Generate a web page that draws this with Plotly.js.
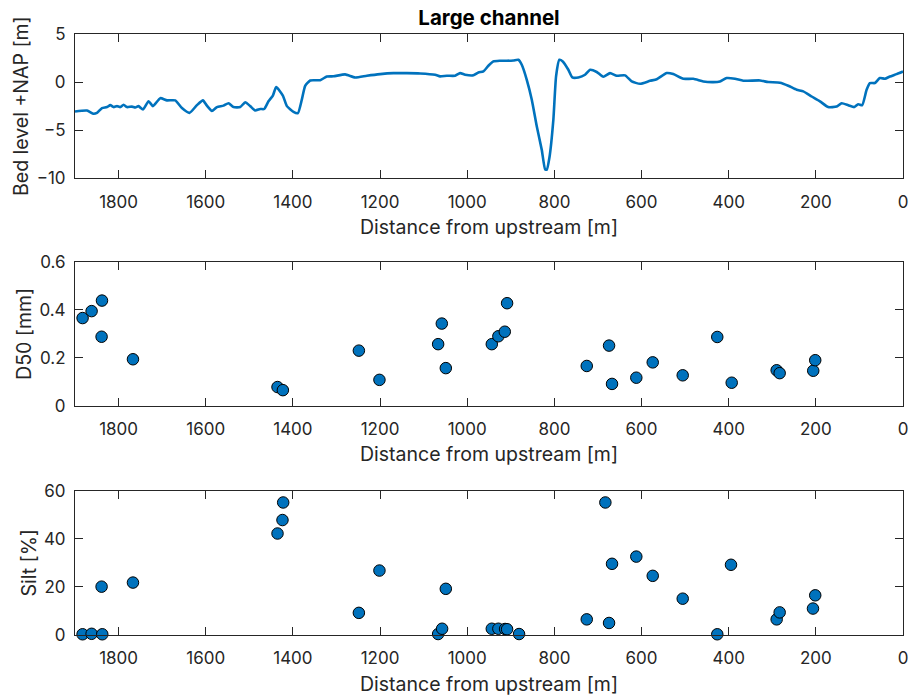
<!DOCTYPE html>
<html>
<head>
<meta charset="utf-8">
<script src="https://cdn.plot.ly/plotly-3.0.1.min.js"></script>
<style>
  html, body { margin: 0; padding: 0; background: #fff; }
  #chart { width: 915px; height: 698px; }
</style>
</head>
<body>
<div id="chart"></div>
<script>
// Longitudinal bed profile of the large channel
const bedDist = [
  1900, 1872.5, 1857.4, 1849.6, 1838.1, 1826.6, 1819.0, 1811.5, 1803.7, 1796.1,
  1788.5, 1780.7, 1769.3, 1761.7, 1754.2, 1744.0, 1731.2, 1721.1, 1704.4, 1689.0,
  1670.0, 1654.6, 1637.2, 1620.2, 1606.5, 1597.3, 1585.8, 1574.3, 1559.2, 1547.7,
  1536.2, 1520.9, 1509.4, 1497.9, 1486.5, 1475.0, 1465.8, 1456.0, 1445.9, 1438.3,
  1423.0, 1413.8, 1398.6, 1388.5, 1379.4, 1371.8, 1360.3, 1337.4, 1322.0, 1306.9,
  1280.1, 1257.1, 1230.3, 1199.8, 1169.3, 1138.5, 1108.0, 1073.6, 1062.2, 1046.8,
  1027.8, 1016.3, 1004.8, 985.8, 974.3, 962.9, 951.4, 939.9, 924.6, 909.2,
  894.0, 882.6, 874.8, 863.3, 851.8, 840.4, 828.9, 821.3, 817.4, 811.5,
  802.3, 796.1, 788.5, 780.7, 767.9, 758.7, 745.0, 729.6, 718.1, 702.8,
  687.6, 672.3, 656.9, 637.8, 622.5, 603.4, 580.5, 565.1, 542.2, 527.1,
  504.1, 481.2, 458.3, 435.3, 420.0, 404.6, 385.6, 366.5, 328.2, 309.2,
  282.3, 263.3, 244.0, 228.9, 209.6, 190.6, 171.6, 152.3, 140.8, 125.7,
  111.9, 102.8, 93.6, 83.5, 75.9, 64.5, 53.0, 41.5, 30.0, 14.7,
  0
];
const bedLevel = [
  -3.06, -2.96, -3.3, -3.2, -2.7, -2.6, -2.4, -2.6, -2.5, -2.6,
  -2.35, -2.6, -2.55, -2.65, -2.5, -2.85, -2.0, -2.5, -1.67, -1.9,
  -1.9, -2.7, -3.2, -2.4, -1.9, -2.45, -3.0, -2.6, -2.45, -2.2,
  -2.6, -2.6, -2.1, -2.5, -2.95, -2.8, -2.8, -2.0, -1.4, -0.52,
  -1.4, -2.5, -3.1, -3.23, -1.8, -0.39, 0.17, 0.2, 0.58, 0.6,
  0.8, 0.48, 0.66, 0.83, 0.93, 0.93, 0.9, 0.76, 0.59, 0.66,
  0.66, 0.93, 0.76, 0.7, 1.0, 1.11, 1.7, 2.15, 2.22, 2.22,
  2.25, 2.32, 1.8, 0.24, -1.84, -4.6, -7.05, -9.07, -9.1, -7.9,
  -3.9, 0.6, 2.32, 2.15, 1.28, 0.48, 0.48, 0.76, 1.28, 1.05,
  0.55, 0.93, 0.66, 0.7, 0.07, -0.18, 0.13, 0.3, 0.94, 0.83,
  0.34, 0.34, 0.07, 0.0, 0.07, 0.42, 0.35, 0.14, 0.17, 0.0,
  -0.07, -0.38, -0.8, -0.97, -1.5, -2.0, -2.6, -2.55, -2.2, -2.4,
  -2.6, -2.3, -2.4, -0.8, -0.1, -0.1, 0.42, 0.35, 0.58, 0.83,
  1.1
];

// Median grain size of the bed samples
const d50Dist = [1882.6, 1861.9, 1838.1, 1839.0, 1767.0, 1435.3, 1423.0, 1248.6, 1201.4, 1066.7,
  1058.3, 1049.1, 943.6, 928.5, 913.8, 908.5, 725.7, 674.5, 667.7, 612.0,
  574.3, 505.5, 426.2, 393.1, 289.9, 283.0, 206.0, 201.4];
const d50 = [0.366, 0.395, 0.439, 0.288, 0.194, 0.078, 0.065, 0.23, 0.108, 0.257,
  0.343, 0.157, 0.257, 0.29, 0.309, 0.428, 0.166, 0.251, 0.091, 0.117,
  0.181, 0.127, 0.287, 0.096, 0.148, 0.136, 0.146, 0.19];

// Silt fraction of the bed samples
const siltDist = [1882.6, 1861.9, 1837.4, 1839.0, 1767.0, 1435.3, 1423.9, 1422.3, 1248.6, 1201.4,
  1066.7, 1057.6, 1049.1, 943.6, 928.5, 913.1, 908.5, 881.0, 725.7, 674.5,
  683.0, 667.7, 612.0, 574.3, 505.5, 426.2, 394.7, 289.9, 283.0, 206.6, 201.4];
const silt = [0.3, 0.5, 0.3, 20.1, 21.8, 42.2, 47.8, 55.1, 9.2, 26.8,
  0.4, 2.6, 19.2, 2.6, 2.6, 2.5, 2.4, 0.4, 6.5, 5.0,
  55.1, 29.6, 32.6, 24.6, 15.1, 0.3, 29.2, 6.5, 9.4, 11.0, 16.5];

const xTicks = [0, 200, 400, 600, 800, 1000, 1200, 1400, 1600, 1800];
const xTitle = 'Distance from upstream [m]';

const BLUE = '#0072BD';
const AX = '#262626';
const FONT = 'Inter, "Liberation Sans", Arial, sans-serif';

const markerStyle = {
  size: 11.5,
  color: BLUE,
  line: { color: '#000000', width: 1 }
};

const traces = [
  { x: bedDist, y: bedLevel, xaxis: 'x', yaxis: 'y', type: 'scatter', mode: 'lines',
    line: { color: BLUE, width: 2.6, shape: 'spline', smoothing: 0.5 }, hoverinfo: 'skip' },
  { x: d50Dist, y: d50, xaxis: 'x2', yaxis: 'y2', type: 'scatter', mode: 'markers',
    marker: markerStyle, cliponaxis: false },
  { x: siltDist, y: silt, xaxis: 'x3', yaxis: 'y3', type: 'scatter', mode: 'markers',
    marker: markerStyle, cliponaxis: false }
];

function xAxis(anchor) {
  return {
    anchor: anchor,
    range: [1900, 0],
    autorange: false,
    tickmode: 'array',
    tickvals: xTicks,
    ticktext: xTicks.map(String),
    ticks: 'inside',
    ticklen: 8,
    tickwidth: 1,
    tickcolor: AX,
    showline: true,
    linecolor: AX,
    linewidth: 1,
    mirror: 'ticks',
    showgrid: false,
    zeroline: false,
    ticklabelstandoff: 8,
    tickfont: { family: FONT, size: 17, color: AX },
    title: { text: xTitle, font: { family: FONT, size: 19.5, color: AX }, standoff: 9 }
  };
}

function yAxis(anchor, domain, range, dtick, title) {
  return {
    anchor: anchor,
    domain: domain,
    range: range,
    autorange: false,
    dtick: dtick,
    tick0: 0,
    ticks: 'inside',
    ticklen: 8,
    tickwidth: 1,
    tickcolor: AX,
    showline: true,
    linecolor: AX,
    linewidth: 1,
    mirror: 'ticks',
    showgrid: false,
    zeroline: false,
    ticklabelstandoff: 5,
    tickfont: { family: FONT, size: 17, color: AX },
    title: { text: title, font: { family: FONT, size: 19.5, color: AX }, standoff: 2 }
  };
}

const layout = {
  width: 915,
  height: 698,
  margin: { l: 75, r: 12, t: 34, b: 63 },
  paper_bgcolor: '#ffffff',
  plot_bgcolor: '#ffffff',
  showlegend: false,
  title: {
    text: '<b>Large channel</b>',
    font: { family: FONT, size: 20.5, color: '#000000' },
    x: 0.5, xref: 'paper', xanchor: 'center',
    y: 0.975, yref: 'container', yanchor: 'middle'
  },
  xaxis: xAxis('y'),
  xaxis2: xAxis('y2'),
  xaxis3: xAxis('y3'),
  yaxis: yAxis('x', [0.760, 1], [-10, 5], 5, 'Bed level +NAP [m]'),
  yaxis2: yAxis('x2', [0.3815, 0.6206], [0, 0.6], 0.2, 'D50 [mm]'),
  yaxis3: yAxis('x3', [0, 0.2401], [0, 60], 20, 'Silt [%]')
};

Plotly.newPlot('chart', traces, layout, { displayModeBar: false, staticPlot: true });
</script>
</body>
</html>
